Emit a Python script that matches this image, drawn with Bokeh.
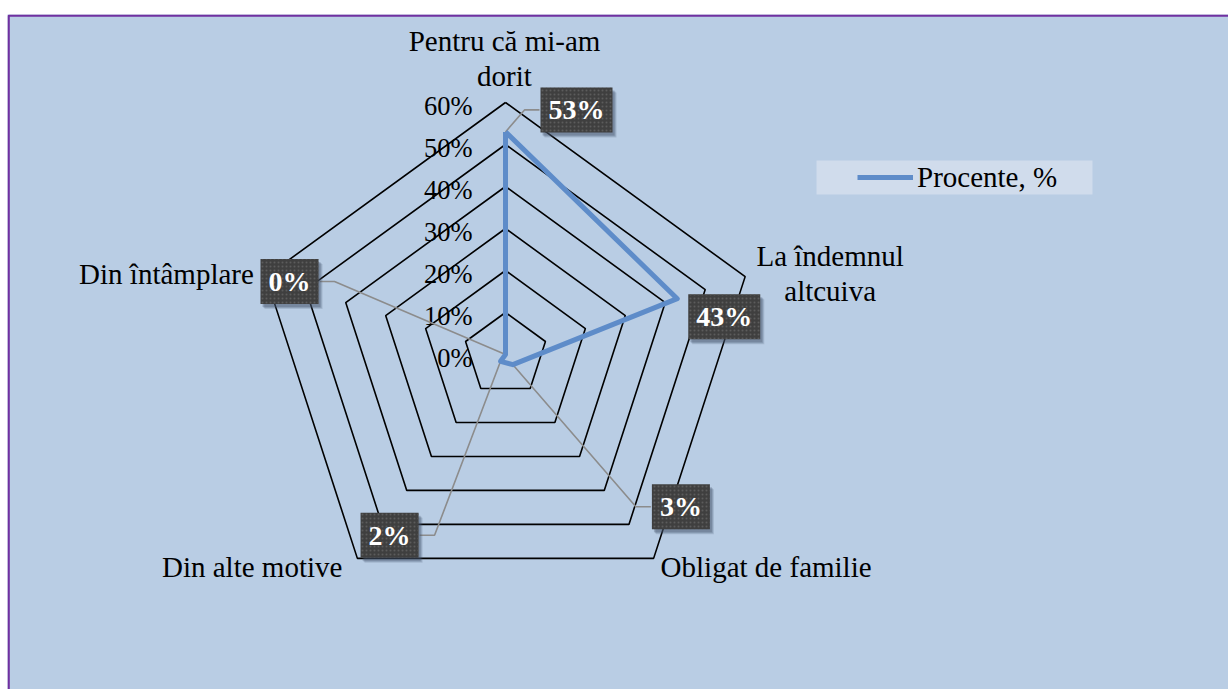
import numpy as np
from bokeh.plotting import figure
from bokeh.models import Range1d, Legend, LegendItem
from bokeh.core.properties import value
from bokeh.embed import file_html
from bokeh.resources import INLINE

# ---------------- data ----------------
categories = ["Pentru că mi-am\ndorit", "La îndemnul\naltcuiva", "Obligat de familie",
              "Din alte motive", "Din întâmplare"]
values = [0.53, 0.43, 0.03, 0.02, 0.00]
value_labels = ["53%", "43%", "3%", "2%", "0%"]
tick_values = [0.0, 0.1, 0.2, 0.3, 0.4, 0.5, 0.6]
tick_labels = ["0%", "10%", "20%", "30%", "40%", "50%", "60%"]
series_name = "Procente, %"

# ---------------- layout ----------------
FONT = "Liberation Serif"
PX = 420.0                 # pixels per unit (100%)
W, H = 1228, 689
LEFT, TOP = 7, 14
FW, FH = W - LEFT, H - TOP  # frame size
CX, CY = 498, 340          # centre of radar inside the frame (px)

BG = "#B9CDE4"
LINE = "#5E8CC9"
PURPLE = "#7030A0"

x0, x1 = -CX / PX, (FW - CX) / PX
y0, y1 = -(FH - CY) / PX, CY / PX

p = figure(width=W, height=H, output_backend="svg", toolbar_location=None,
           x_range=Range1d(x0, x1), y_range=Range1d(y0, y1),
           min_border_left=LEFT, min_border_right=0, min_border_bottom=0,
           min_border_top=TOP)
p.xaxis.visible = False
p.yaxis.visible = False
p.grid.visible = False
p.background_fill_color = BG
p.border_fill_color = "white"
p.outline_line_color = None

# chart-area panel with purple border (right / bottom sides fall outside the window)
bw = 2.3
p.quad(left=[x0 + bw / 2 / PX], top=[y1 - bw / 2 / PX], right=[x1 + 1], bottom=[y0 - 1],
       fill_color=BG, line_color=PURPLE, line_width=bw)

n = len(categories)
theta = np.arange(n) * 2 * np.pi / n
sx, cy_ = np.sin(theta), np.cos(theta)

# grid pentagons
gx, gy = [], []
for r in tick_values[1:]:
    gx.append(list(r * sx) + [r * sx[0]])
    gy.append(list(r * cy_) + [r * cy_[0]])
p.multi_line(gx, gy, line_color="black", line_width=1.6)

# tick labels
p.text(x=[0.0] * len(tick_values), y=tick_values, text=tick_labels,
       text_font=value(FONT), text_font_size="26.5px", text_color="black",
       text_align="right", text_baseline="middle", x_offset=-33, y_offset=3)

# category labels
vx, vy = 0.6 * sx, 0.6 * cy_
cat_aligns = ["center", "center", "left", "right", "right"]
cat_off = [(-1, -44), (85, -3), (7, 9), (-15, 9), (-12, -3)]
for i in range(n):
    p.text(x=[vx[i]], y=[vy[i]], text=[categories[i]],
           text_font=value(FONT), text_font_size="29px", text_color="black",
           text_align=cat_aligns[i], text_baseline="middle", text_line_height=1.1,
           x_offset=cat_off[i][0], y_offset=cat_off[i][1])

# series
px_ = np.array(values) * sx
py_ = np.array(values) * cy_
lx = list(px_) + [px_[0]]
ly = list(py_) + [py_[0]]

# data labels (box centre offset from point, in px: +x right, +y down)
lab_off = [(71, -22), (47, 18), (168, 142), (-111, 174), (-216, -73)]
half_w = [37, 37, 30, 30, 30]
lcx = [px_[i] + lab_off[i][0] / PX for i in range(n)]
lcy = [py_[i] - lab_off[i][1] / PX for i in range(n)]

# leader lines
lead_x, lead_y = [], []
for i in range(n):
    dx, dy = lab_off[i]
    if np.hypot(dx, dy) < 60:
        continue
    sgn = -1 if dx > 0 else 1
    edge = dx + sgn * half_w[i]
    elbow = edge + sgn * 15
    lead_x.append([px_[i], px_[i] + elbow / PX, px_[i] + edge / PX])
    lead_y.append([py_[i], py_[i] - dy / PX, py_[i] - dy / PX])
p.multi_line(lead_x, lead_y, line_color="#8C8C8C", line_width=1.6)

r_series = p.line(lx, ly, line_color=LINE, line_width=5, line_join="round")

# label shadows
for ox, oy, a in [(4, 5, 0.18), (3, 4, 0.25), (2, 3, 0.3)]:
    p.text(x=lcx, y=lcy, text=value_labels, text_font=value(FONT),
           text_font_size="28px", text_font_style="bold", text_alpha=0,
           text_align="center", text_baseline="middle", padding=(8, 7),
           background_fill_color="#44546A", background_fill_alpha=a,
           x_offset=ox, y_offset=oy)

p.text(x=lcx, y=lcy, text=value_labels, text_font=value(FONT),
       text_font_size="28px", text_font_style="bold", text_color="white",
       text_align="center", text_baseline="middle", padding=(8, 7),
       background_fill_color="#3F3F3F", background_hatch_pattern="dot",
       background_hatch_color="#5C5C5C", background_hatch_scale=4,
       background_hatch_weight=1)

# legend panel and legend
LEG_X, LEG_Y = 850, 495          # legend item position from frame bottom-left (px)
bl = (LEG_X - 41 - CX) / PX
br = (LEG_X + 235 - CX) / PX
bb = (LEG_Y - (FH - CY)) / PX
bt = (LEG_Y + 34 - (FH - CY)) / PX
p.quad(left=[bl], right=[br], bottom=[bb], top=[bt], fill_color="#D0DCEC",
       line_color=None)

legend = Legend(items=[LegendItem(label=series_name, renderers=[r_series])],
                location=(LEG_X, LEG_Y), padding=0, margin=0, spacing=0,
                glyph_width=56, glyph_height=34, label_height=34, label_standoff=4,
                label_text_font=FONT, label_text_font_size="29px",
                label_text_color="black", background_fill_alpha=0,
                border_line_alpha=0)
p.add_layout(legend)

open("out.html", "w").write(file_html(p, INLINE))
